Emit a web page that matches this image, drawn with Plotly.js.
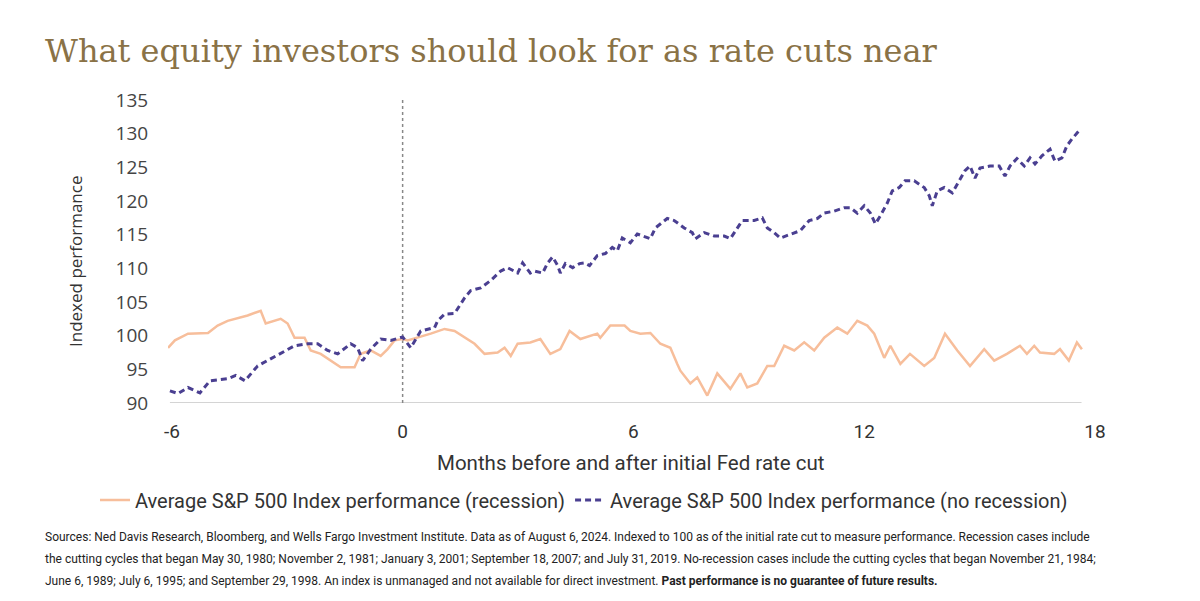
<!DOCTYPE html>
<html>
<head>
<meta charset="utf-8">
<script src="https://cdn.plot.ly/plotly-3.0.1.min.js"></script>
<style>html,body{margin:0;padding:0;background:#fff;}#chart{width:1200px;height:601px;}</style>
</head>
<body>
<div id="chart"></div>
<script>
// Months relative to the initial Fed rate cut
const recessionMonths = [-6.10,-5.92,-5.58,-5.06,-4.81,-4.55,-4.03,-3.69,-3.56,-3.17,-2.99,-2.81,-2.55,-2.39,-2.13,-1.87,-1.61,-1.25,-1.09,-0.83,-0.57,-0.39,-0.21,0,0.13,0.73,1.09,1.35,1.61,1.87,2.13,2.47,2.65,2.81,2.99,3.32,3.58,3.84,4.10,4.34,4.62,5.06,5.14,5.40,5.77,5.92,6.18,6.44,6.70,6.96,7.14,7.22,7.48,7.66,7.92,8.18,8.52,8.78,8.96,9.22,9.48,9.66,9.92,10.18,10.44,10.70,10.96,11.30,11.56,11.82,12.08,12.26,12.52,12.68,12.94,13.19,13.56,13.82,14.10,14.42,14.75,15.12,15.38,15.71,16.05,16.23,16.42,16.57,16.94,17.09,17.32,17.53,17.66];
const recessionValues = [98.2,99.3,100.3,100.4,101.5,102.2,103.0,103.7,101.8,102.5,101.8,99.7,99.7,97.8,97.3,96.3,95.3,95.3,97.3,97.8,97.0,98.0,99.3,99.5,99.3,100.3,101.0,100.7,99.7,98.8,97.3,97.5,98.2,97.0,98.8,99.0,99.5,97.3,98.0,100.7,99.5,100.3,99.7,101.5,101.5,100.7,100.3,100.4,98.8,98.2,95.8,94.8,92.9,93.8,91.1,94.4,92.1,94.4,92.3,92.9,95.5,95.5,98.5,97.8,99.0,97.8,99.7,101.2,100.3,102.2,101.5,100.3,96.7,98.5,95.8,97.3,95.5,96.7,100.3,97.8,95.5,98.0,96.3,97.3,98.5,97.3,98.5,97.5,97.3,98.0,96.3,99.0,98.0];

const noRecessionMonths = [-6.05,-5.84,-5.58,-5.27,-5.01,-4.55,-4.34,-4.10,-3.77,-3.43,-3.06,-2.81,-2.47,-2.21,-1.95,-1.69,-1.35,-1.17,-1.04,-0.83,-0.57,-0.31,0,0.21,0.47,0.83,0.91,1.09,1.35,1.61,1.77,2.03,2.29,2.55,2.73,2.99,3.12,3.32,3.43,3.64,3.77,3.90,4.03,4.10,4.23,4.42,4.60,4.73,4.86,5.06,5.27,5.45,5.58,5.71,5.92,6.10,6.44,6.57,6.88,7.06,7.32,7.53,7.61,7.84,8.10,8.36,8.52,8.70,8.83,9.14,9.35,9.48,9.66,9.82,10.08,10.34,10.57,10.78,10.96,11.22,11.48,11.64,11.82,12.00,12.16,12.29,12.42,12.60,12.73,12.91,13.06,13.30,13.56,13.69,13.77,13.90,14.08,14.29,14.47,14.62,14.75,14.88,15.01,15.27,15.51,15.66,15.79,15.97,16.16,16.31,16.44,16.62,16.83,16.96,17.14,17.27,17.40,17.58];
const noRecessionValues = [91.8,91.4,92.3,91.5,93.3,93.6,94.1,93.3,95.5,96.6,97.8,98.5,98.8,98.8,97.8,97.3,98.8,98.2,96.3,98.0,99.5,99.3,99.8,98.2,100.7,101.2,102.2,103.2,103.3,105.6,106.7,107.1,108.2,109.6,110.1,109.3,110.8,109.3,109.6,109.3,110.8,111.7,110.4,109.3,110.7,110.1,110.7,110.8,110.4,111.9,112.2,113.1,112.6,114.5,113.8,115.1,114.4,116.0,117.4,117.1,116.0,115.3,114.4,115.3,114.8,114.8,114.4,115.9,117.1,117.1,117.5,116.0,115.3,114.5,115.1,115.6,117.1,117.4,118.2,118.5,119.0,119.0,118.2,119.3,118.2,116.6,117.8,119.7,121.5,122.0,123.0,123.0,122.0,120.8,119.3,121.5,122.0,121.2,123.0,124.5,125.2,123.4,124.9,125.2,125.2,123.7,125.2,126.3,125.2,126.4,125.5,126.7,127.7,125.9,126.4,128.2,129.2,130.4];

const xTicks = [-6, 0, 6, 12, 18];
const yTicks = [90, 95, 100, 105, 110, 115, 120, 125, 130, 135];

const titleText = "What equity investors should look for as rate cuts near";
const xTitle = "Months before and after initial Fed rate cut";
const yTitle = "Indexed performance";
const seriesNames = ["Average S&P 500 Index performance (recession)", "Average S&P 500 Index performance (no recession)"];
const footnoteLines = [
  "Sources: Ned Davis Research, Bloomberg, and Wells Fargo Investment Institute. Data as of August 6, 2024. Indexed to 100 as of the initial rate cut to measure performance. Recession cases include",
  "the cutting cycles that began May 30, 1980; November 2, 1981; January 3, 2001; September 18, 2007; and July 31, 2019. No-recession cases include the cutting cycles that began November 21, 1984;",
  "June 6, 1989; July 6, 1995; and September 29, 1998. An index is unmanaged and not available for direct investment. <b>Past performance is no guarantee of future results.</b>"
];

const NARROW = "Roboto, sans-serif";
const SANS = "Open Sans, Noto Sans, DejaVu Sans, sans-serif";

// plot-area geometry in pixels (used only for placing texts)
const L = 168, T = 100, W = 927, H = 303;
const px2x = p => (p - L) / W;
const py2y = p => (T + H - p) / H;

const traces = [
  {x: recessionMonths, y: recessionValues, name: seriesNames[0], type: 'scatter', mode: 'lines',
   line: {color: '#F7BE9B', width: 2.5}},
  {x: noRecessionMonths, y: noRecessionValues, name: seriesNames[1], type: 'scatter', mode: 'lines',
   line: {color: '#4A3F91', width: 3, dash: '6px,4px'}}
];

const annotations = [
  {text: yTitle, xref: 'paper', yref: 'paper', x: px2x(75), y: py2y(262), xanchor: 'center', yanchor: 'middle',
   textangle: -90, showarrow: false, font: {family: SANS, size: 17, color: '#333'}},
  {text: xTitle, xref: 'paper', yref: 'paper', x: px2x(630), y: py2y(463), xanchor: 'center', yanchor: 'middle',
   showarrow: false, font: {family: NARROW, size: 20.5, color: '#333'}}
];
const footY = [537, 559, 581];
footnoteLines.forEach((t, i) => annotations.push({
  text: t, xref: 'paper', yref: 'paper', x: px2x(43), y: py2y(footY[i]), xanchor: 'left', yanchor: 'middle',
  align: 'left', showarrow: false, font: {family: NARROW, size: 12, color: '#222'}
}));

const layout = {
  width: 1200, height: 601,
  margin: {l: L, r: 1200 - L - W, t: T, b: 601 - T - H},
  paper_bgcolor: '#ffffff', plot_bgcolor: '#ffffff',
  showlegend: true,
  title: {text: titleText, xref: 'container', yref: 'container', x: 45/1200, xanchor: 'left',
          y: 1 - 51/601, yanchor: 'middle',
          font: {family: 'DejaVu Serif, Liberation Serif, serif', size: 32, color: '#8A7246'}},
  xaxis: {range: [-6.1, 18], tickvals: xTicks, ticktext: xTicks.map(String),
          showgrid: false, zeroline: false, showline: false,
          ticks: 'outside', ticklen: 11, tickcolor: 'rgba(0,0,0,0)',
          tickfont: {family: NARROW, size: 19, color: '#333'}},
  yaxis: {range: [90, 135], tickvals: yTicks, showgrid: false, zeroline: false, showline: false,
          ticks: 'outside', ticklen: 15, tickcolor: 'rgba(0,0,0,0)',
          tickfont: {family: SANS, size: 19, color: '#444'}},
  legend: {orientation: 'h', xref: 'paper', yref: 'paper', x: px2x(95), xanchor: 'left',
           y: py2y(500), yanchor: 'middle', font: {family: NARROW, size: 20, color: '#333'},
           itemwidth: 30, tracegroupgap: 0, bgcolor: 'rgba(0,0,0,0)'},
  shapes: [
    {type: 'line', xref: 'x', yref: 'y', x0: -6.05, x1: 17.65, y0: 90, y1: 90,
     line: {color: '#d4d4d4', width: 2}, layer: 'below'},
    {type: 'line', xref: 'x', yref: 'y', x0: 0, x1: 0, y0: 90, y1: 135,
     line: {color: '#888', width: 1.5, dash: 'dot'}, layer: 'below'}
  ],
  annotations: annotations
};

Plotly.newPlot('chart', traces, layout, {displayModeBar: false, staticPlot: true});
</script>
</body>
</html>
